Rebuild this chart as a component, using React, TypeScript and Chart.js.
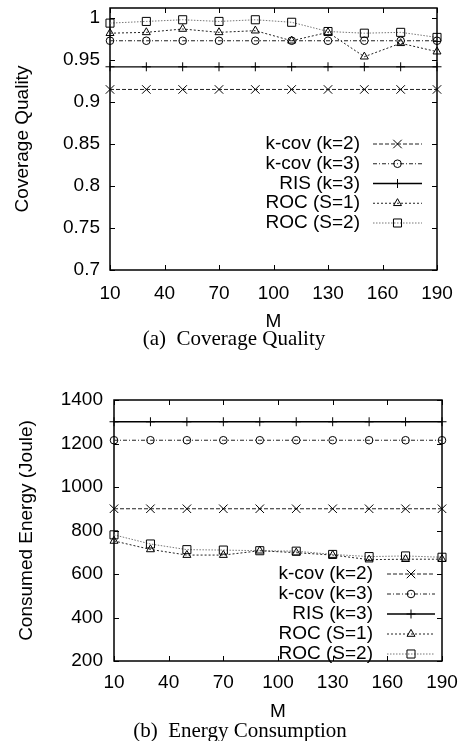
import React, { useEffect, useRef } from 'react';
import { Chart, registerables } from 'chart.js';
import { drawPoint } from 'chart.js/helpers';

Chart.register(...registerables);

// ---- data ----
const mValues = [10, 30, 50, 70, 90, 110, 130, 150, 170, 190];
const mTicks = [10, 40, 70, 100, 130, 160, 190];

const seriesNames = ['k-cov (k=2)', 'k-cov (k=3)', 'RIS (k=3)', 'ROC (S=1)', 'ROC (S=2)'];

const coverageTicks = [0.7, 0.75, 0.8, 0.85, 0.9, 0.95, 1];
const covKcov2 = [0.915, 0.915, 0.915, 0.915, 0.915, 0.915, 0.915, 0.915, 0.915, 0.915];
const covKcov3 = [0.973, 0.973, 0.973, 0.973, 0.973, 0.973, 0.973, 0.973, 0.973, 0.973];
const covRis3 = [0.942, 0.942, 0.942, 0.942, 0.942, 0.942, 0.942, 0.942, 0.942, 0.942];
const covRocS1 = [0.982, 0.983, 0.987, 0.983, 0.985, 0.973, 0.983, 0.954, 0.97, 0.96];
const covRocS2 = [0.994, 0.996, 0.998, 0.996, 0.998, 0.995, 0.984, 0.982, 0.983, 0.977];

const energyTicks = [200, 400, 600, 800, 1000, 1200, 1400];
const enKcov2 = [900, 900, 900, 900, 900, 900, 900, 900, 900, 900];
const enKcov3 = [1215, 1215, 1215, 1215, 1215, 1215, 1215, 1215, 1215, 1215];
const enRis3 = [1300, 1300, 1300, 1300, 1300, 1300, 1300, 1300, 1300, 1300];
const enRocS1 = [752, 713, 687, 687, 707, 698, 687, 666, 668, 668];
const enRocS2 = [780, 738, 712, 710, 707, 705, 690, 680, 683, 677];

// ---- styling ----
const SANS = '"Liberation Sans", Arial, Helvetica, sans-serif';
const FONT_SIZE = 19;

const seriesStyles = [
  { color: '#222', dash: [4, 2], pointStyle: 'crossRot', radius: 6, width: 1 },
  { color: '#222', dash: [4, 2, 1, 2], pointStyle: 'circle', radius: 3.8, width: 1 },
  { color: '#000', dash: [], pointStyle: 'cross', radius: 4.5, width: 1.3 },
  { color: '#222', dash: [2, 2], pointStyle: 'triangle', radius: 4.6, width: 1 },
  { color: '#777', dash: [1.5, 1.5], pointStyle: 'rect', radius: 5.7, width: 1 },
];

function makeDatasets(values: number[][]) {
  return values.map((vals, i) => {
    const s = seriesStyles[i];
    return {
      label: seriesNames[i],
      data: mValues.map((m, j) => ({ x: m, y: vals[j] })),
      borderColor: s.color,
      borderWidth: s.width,
      borderDash: s.dash,
      pointStyle: s.pointStyle,
      pointRadius: s.radius,
      pointBorderColor: '#000',
      pointBackgroundColor: 'rgba(0,0,0,0)',
      pointBorderWidth: 1,
      tension: 0,
      fill: false,
      clip: false,
    };
  });
}

// border box with inward tick marks on all four sides
const framePlugin = {
  id: 'gpFrame',
  beforeDatasetsDraw(chart: any) {
    const { ctx, chartArea: a, scales } = chart;
    ctx.save();
    ctx.strokeStyle = '#000';
    ctx.lineWidth = 1.5;
    ctx.setLineDash([]);
    ctx.strokeRect(a.left, a.top, a.right - a.left, a.bottom - a.top);
    ctx.lineWidth = 1;
    const tl = 5;
    ctx.beginPath();
    for (const t of scales.x.ticks) {
      const px = Math.round(scales.x.getPixelForValue(t.value)) + 0.5;
      ctx.moveTo(px, a.bottom);
      ctx.lineTo(px, a.bottom - tl);
      ctx.moveTo(px, a.top);
      ctx.lineTo(px, a.top + tl);
    }
    for (const t of scales.y.ticks) {
      const py = Math.round(scales.y.getPixelForValue(t.value)) + 0.5;
      ctx.moveTo(a.left, py);
      ctx.lineTo(a.left + tl, py);
      ctx.moveTo(a.right, py);
      ctx.lineTo(a.right - tl, py);
    }
    ctx.stroke();
    ctx.restore();
  },
};

// key drawn inside the plot: right-aligned text, then a line sample with its marker
const keyPlugin = {
  id: 'gpKey',
  afterDatasetsDraw(chart: any, _args: any, opts: any) {
    const { ctx, chartArea: a } = chart;
    const sx1 = a.right - opts.right;
    const sx0 = sx1 - opts.sampleLen;
    const textRight = sx0 - opts.gap;
    ctx.save();
    ctx.font = `${FONT_SIZE}px ${SANS}`;
    ctx.textAlign = 'right';
    ctx.textBaseline = 'middle';
    chart.data.datasets.forEach((ds: any, i: number) => {
      const y = a.top + opts.top + i * opts.row;
      ctx.fillStyle = '#000';
      ctx.fillText(ds.label, textRight, y);
      ctx.strokeStyle = ds.borderColor;
      ctx.lineWidth = ds.borderWidth;
      ctx.setLineDash(ds.borderDash);
      ctx.beginPath();
      ctx.moveTo(sx0, y);
      ctx.lineTo(sx1, y);
      ctx.stroke();
      ctx.setLineDash([]);
      ctx.strokeStyle = '#000';
      ctx.lineWidth = 1;
      ctx.fillStyle = 'rgba(0,0,0,0)';
      drawPoint(ctx, { pointStyle: ds.pointStyle, radius: ds.pointRadius, rotation: 0, borderWidth: 1 } as any, (sx0 + sx1) / 2, y);
    });
    ctx.restore();
  },
};

type PanelProps = {
  height: number;
  datasets: any[];
  yMin: number;
  yMax: number;
  yTicks: number[];
  yTitle: string;
  yAxisWidth: number;
  yTickPad: number;
  yTitlePad: number;
  xAxisHeight: number;
  xTickPad: number;
  xTitlePad: number;
  padTop: number;
  padRight: number;
  keyOpts: any;
};

function Panel(p: PanelProps) {
  const ref = useRef<HTMLCanvasElement | null>(null);
  useEffect(() => {
    if (!ref.current) return;
    const font = { family: SANS, size: FONT_SIZE, lineHeight: 1.2 };
    const chart = new Chart(ref.current, {
      type: 'line',
      data: { datasets: p.datasets },
      plugins: [framePlugin, keyPlugin],
      options: {
        animation: false,
        responsive: false,
        devicePixelRatio: 1,
        layout: { padding: { left: 0, top: p.padTop, right: p.padRight, bottom: 0 } },
        plugins: {
          legend: { display: false },
          tooltip: { enabled: false },
          gpKey: p.keyOpts,
        } as any,
        scales: {
          x: {
            type: 'linear',
            min: 10,
            max: 190,
            grid: { display: false, drawTicks: false },
            border: { display: false },
            afterBuildTicks: (s: any) => {
              s.ticks = mTicks.map((v) => ({ value: v }));
            },
            afterFit: (s: any) => {
              s.height = p.xAxisHeight;
              s.paddingLeft = 0;
              s.paddingRight = 0;
            },
            ticks: {
              color: '#000',
              font,
              padding: p.xTickPad,
              maxRotation: 0,
              autoSkip: false,
              callback: (v: any) => String(v),
            },
            title: {
              display: true,
              text: 'M',
              color: '#000',
              font,
              padding: { top: 0, bottom: p.xTitlePad },
            },
          },
          y: {
            type: 'linear',
            min: p.yMin,
            max: p.yMax,
            grid: { display: false, drawTicks: false },
            border: { display: false },
            afterBuildTicks: (s: any) => {
              s.ticks = p.yTicks.map((v) => ({ value: v }));
            },
            afterFit: (s: any) => {
              s.width = p.yAxisWidth;
              s.paddingTop = 0;
              s.paddingBottom = 0;
            },
            ticks: {
              color: '#000',
              font,
              padding: p.yTickPad,
              autoSkip: false,
              includeBounds: false,
              callback: (v: any) => String(+Number(v).toFixed(3)),
            },
            title: {
              display: true,
              text: p.yTitle,
              color: '#000',
              font,
              padding: { top: p.yTitlePad, bottom: 0 },
            },
          },
        },
      } as any,
    });
    return () => chart.destroy();
  }, []);
  return <canvas ref={ref} width={461} height={p.height} style={{ display: 'block' }} />;
}

const captionStyle: React.CSSProperties = {
  position: 'absolute',
  width: 320,
  textAlign: 'center',
  fontFamily: '"Liberation Serif", "Times New Roman", serif',
  fontSize: 21,
  lineHeight: '24px',
  whiteSpace: 'pre',
  color: '#000',
};

export default function App() {
  return (
    <div style={{ position: 'absolute', left: 0, top: 0, width: 461, height: 741, background: '#fff', overflow: 'hidden' }}>
      <div style={{ position: 'absolute', left: 0, top: 0 }}>
        <Panel
          height={335}
          datasets={makeDatasets([covKcov2, covKcov3, covRis3, covRocS1, covRocS2])}
          yMin={0.7}
          yMax={1.012}
          yTicks={coverageTicks}
          yTitle="Coverage Quality"
          yAxisWidth={110}
          yTickPad={10}
          yTitlePad={11.5}
          xAxisHeight={65}
          xTickPad={12.5}
          xTitlePad={2}
          padTop={8}
          padRight={24}
          keyOpts={{ right: 15, sampleLen: 49, gap: 13, top: 136, row: 19.75 }}
        />
      </div>
      <div style={{ ...captionStyle, left: 234 - 160, top: 326 }}>{'(a)  Coverage Quality'}</div>
      <div style={{ position: 'absolute', left: 0, top: 370 }}>
        <Panel
          height={371}
          datasets={makeDatasets([enKcov2, enKcov3, enRis3, enRocS1, enRocS2])}
          yMin={200}
          yMax={1400}
          yTicks={energyTicks}
          yTitle="Consumed Energy (Joule)"
          yAxisWidth={114}
          yTickPad={11}
          yTitlePad={15.6}
          xAxisHeight={80}
          xTickPad={10.5}
          xTitlePad={17.9}
          padTop={30}
          padRight={19}
          keyOpts={{ right: 7, sampleLen: 48, gap: 14, top: 174, row: 20 }}
        />
      </div>
      <div style={{ ...captionStyle, left: 240 - 160, top: 718 }}>{'(b)  Energy Consumption'}</div>
    </div>
  );
}
